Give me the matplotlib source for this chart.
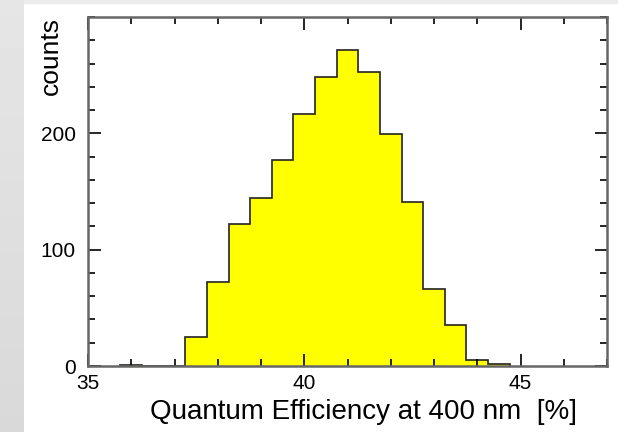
import numpy as np
import matplotlib
matplotlib.use("Agg")
from matplotlib import pyplot as plt
from matplotlib.ticker import MultipleLocator

plt.rcParams['font.family'] = ['Liberation Sans', 'DejaVu Sans']

# bin edges (width 0.5) and counts
bin_edges = np.arange(35.75, 44.76, 0.5)
counts = [1, 0, 0, 25, 72, 122, 144, 177, 217, 248, 272, 253, 199, 141, 66, 35, 5, 2]
x_major = [35, 40, 45]
y_major = [0, 100, 200]
x_label = "Quantum Efficiency at 400 nm  [%]"
y_label = "counts"

fig = plt.figure(figsize=(6.18, 4.32), dpi=100)

# grey strips on the left and top (slide background)
bg = fig.add_axes([0, 0, 24 / 618, 1])
grad = np.linspace(0.90, 0.85, 100).reshape(-1, 1)
bg.imshow(grad, cmap='gray', vmin=0, vmax=1, aspect='auto', extent=[0, 1, 0, 1], origin='upper')
bg.axis('off')
fig.patches.append(plt.Rectangle((24 / 618, 1 - 3 / 432), 1, 3 / 432, transform=fig.transFigure,
                                 color='#ececec', zorder=0))

ax = fig.add_axes([88 / 618, 66 / 432, (607 - 88) / 618, (366 - 17) / 432])
ax.stairs(counts, bin_edges, fill=True, facecolor='#ffff00', edgecolor='none')
ax.stairs(counts, bin_edges, color='#222222', linewidth=1.2)

ax.set_xlim(35, 47)
ax.set_ylim(0, 300)
ax.set_xticks(x_major)
ax.set_yticks(y_major)
ax.xaxis.set_minor_locator(MultipleLocator(1))
ax.yaxis.set_minor_locator(MultipleLocator(20))
ax.tick_params(which='both', direction='in', top=True, right=True, labelsize=15, color='black')
ax.tick_params(which='major', length=9, width=1.2)
ax.tick_params(which='minor', length=5, width=1.2)
ax.tick_params(axis='x', pad=6)
ax.tick_params(axis='y', pad=9)
for s in ax.spines.values():
    s.set_color('#666666')
    s.set_linewidth(1.8)

fig.text(577 / 618, 1 - 412 / 432, x_label, fontsize=20, ha='right', va='center')
fig.text(51 / 618, 1 - 17 / 432, y_label, fontsize=19, ha='center', va='top', rotation=90)

plt.savefig("out.png", dpi=100)
